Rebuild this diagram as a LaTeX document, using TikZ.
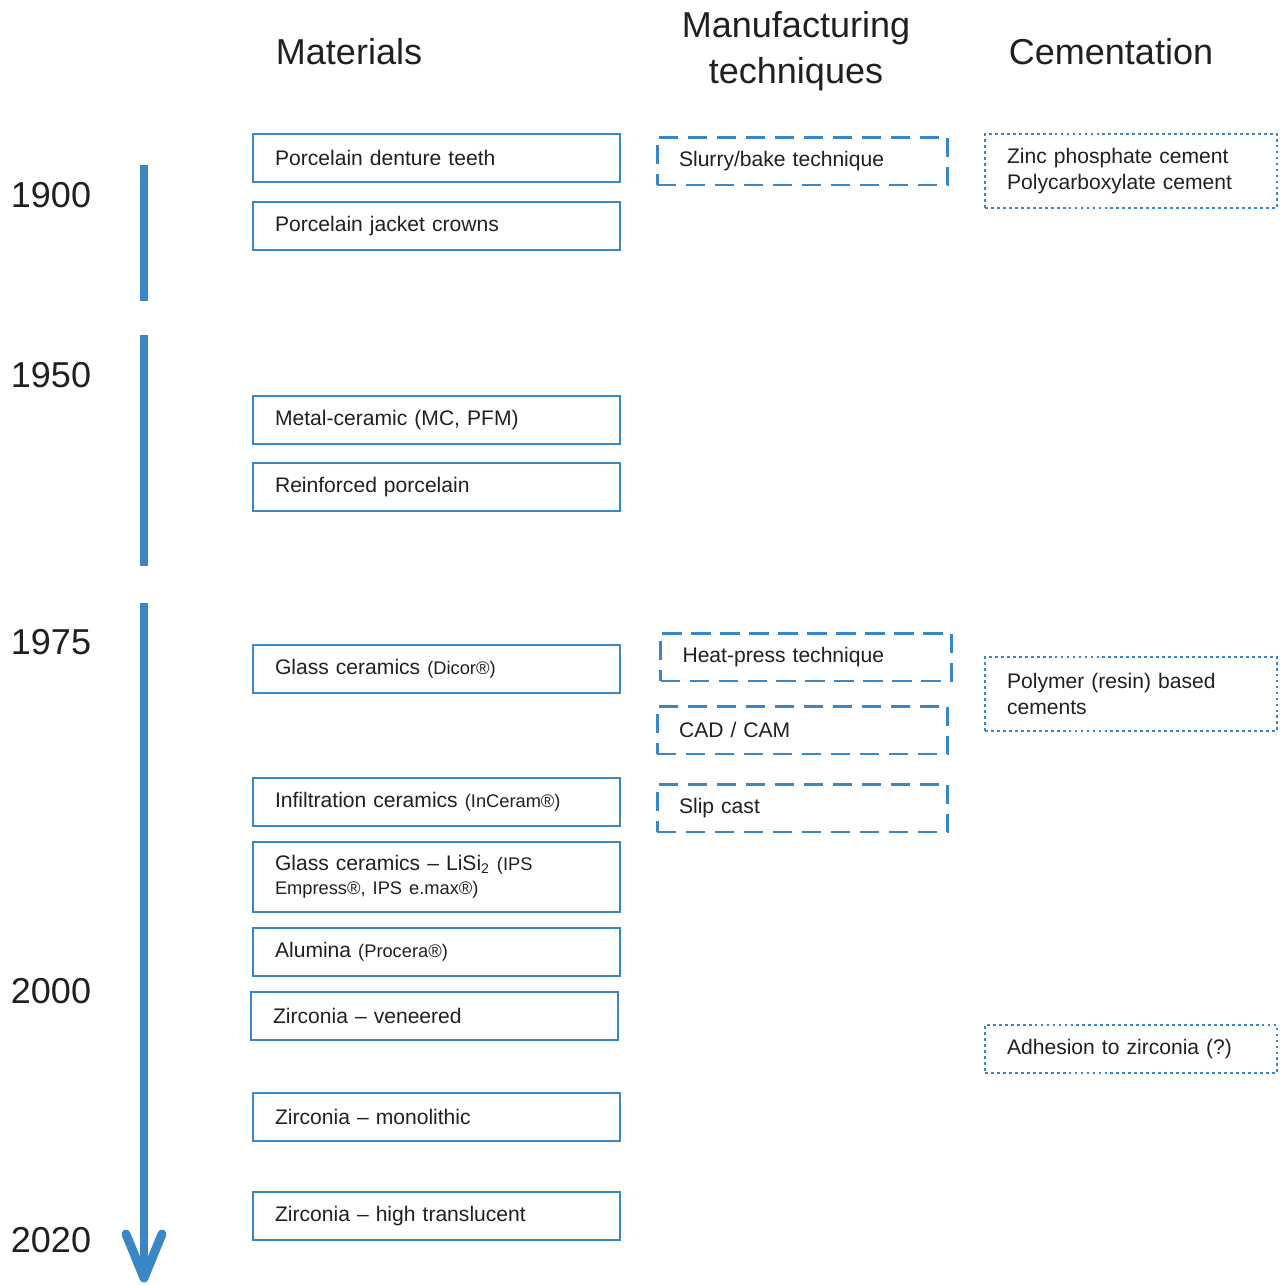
\documentclass[tikz,border=0pt]{standalone}
\usepackage{fontspec}
\setmainfont{Liberation Sans}
\usetikzlibrary{positioning}
\definecolor{tlblue}{HTML}{3A87C8}
\definecolor{tltext}{HTML}{231F20}
\newcommand{\smallnote}[1]{{\fontsize{10.4}{12.5}\selectfont #1}}

\begin{document}
\begin{tikzpicture}[x=0.02cm, y=-0.02cm, font=\fontsize{12}{13.6}\selectfont, text=tltext]

        \useasboundingbox (0,0) rectangle (1282,1285);

        % Setup the styles for the boxes
        \tikzset{mat style/.style={draw=tlblue,
                                   line width=1.4pt,
                                   text width=6.46cm,
                                   inner xsep=0.44cm,
                                   minimum height=0.96cm,
                                   align=left},
                 tech style/.style={mat style,
                                    line width=1.7pt,
                                    dash pattern=on 11pt off 5.5pt,
                                    text width=4.94cm},
                 cem style/.style={mat style,
                                   line width=1.5pt,
                                   dash pattern=on 1.6pt off 1.8pt,
                                   text width=4.96cm,
                                   font=\fontsize{12}{14.7}\selectfont},
                 head style/.style={font=\fontsize{20.5}{26}\selectfont, align=center},
                 year style/.style={font=\fontsize{20.5}{24}\selectfont},
                 time style/.style={draw=tlblue, line width=5.1pt}}

        % Draw the headings
        \node[head style] at (349, 52)  (hmat)  {Materials};
        \node[head style] at (796, 51)  (htech) {Manufacturing\\techniques};
        \node[head style] at (1111, 52) (hcem)  {Cementation};

        % Draw the years
        \node[year style] at (51, 195)  (y1900) {1900};
        \node[year style] at (51, 375)  (y1950) {1950};
        \node[year style] at (51, 642)  (y1975) {1975};
        \node[year style] at (51, 991)  (y2000) {2000};
        \node[year style] at (51, 1240) (y2020) {2020};

        % Draw the time line
        \coordinate (ta1) at (144, 165);
        \coordinate (tb1) at (144, 301);
        \coordinate (ta2) at (144, 335);
        \coordinate (tb2) at (144, 566);
        \coordinate (ta3) at (144, 603);
        \coordinate (tb3) at (144, 1278);
        \coordinate (tl)  at (126, 1234);
        \coordinate (tr)  at (162, 1234);
        \draw[time style] (ta1) -- (tb1);
        \draw[time style] (ta2) -- (tb2);
        \draw[time style] (ta3) -- (tb3);
        \draw[time style, line cap=round, line join=round] (tl) -- (tb3) -- (tr);

        % Draw the materials
        \node[mat style] at (436.5, 158)  (m1)  {Porcelain denture teeth};
        \node[mat style] at (436.5, 226)  (m2)  {Porcelain jacket crowns};
        \node[mat style] at (436.5, 420)  (m3)  {Metal-ceramic (MC, PFM)};
        \node[mat style] at (436.5, 487)  (m4)  {Reinforced porcelain};
        \node[mat style] at (436.5, 669)  (m5)  {Glass ceramics \smallnote{(Dicor®)}};
        \node[mat style] at (436.5, 802)  (m6)  {Infiltration ceramics \smallnote{(InCeram®)}};
        \node[mat style, minimum height=1.4cm] at (436.5, 877) (m7)
            {Glass ceramics – LiSi\textsubscript{2} \smallnote{(IPS}\\\smallnote{Empress®, IPS e.max®)}};
        \node[mat style] at (436.5, 952)  (m8)  {Alumina \smallnote{(Procera®)}};
        \node[mat style] at (434.5, 1016) (m9)  {Zirconia – veneered};
        \node[mat style] at (436.5, 1117) (m10) {Zirconia – monolithic};
        \node[mat style] at (436.5, 1216) (m11) {Zirconia – high translucent};

        % Draw the manufacturing techniques
        \node[tech style] at (802.5, 161) (t1) {Slurry/bake technique};
        \node[tech style] at (806, 657)   (t2) {Heat-press technique};
        \node[tech style] at (802.5, 730) (t3) {CAD / CAM};
        \node[tech style] at (802.5, 808) (t4) {Slip cast};

        % Draw the cementation
        \node[cem style, minimum height=1.48cm] at (1131, 171) (c1) {Zinc phosphate cement\\Polycarboxylate cement};
        \node[cem style, minimum height=1.48cm] at (1131, 694) (c2) {Polymer (resin) based\\cements};
        \node[cem style] at (1131, 1049) (c3) {Adhesion to zirconia (?)};

\end{tikzpicture}
\end{document}
